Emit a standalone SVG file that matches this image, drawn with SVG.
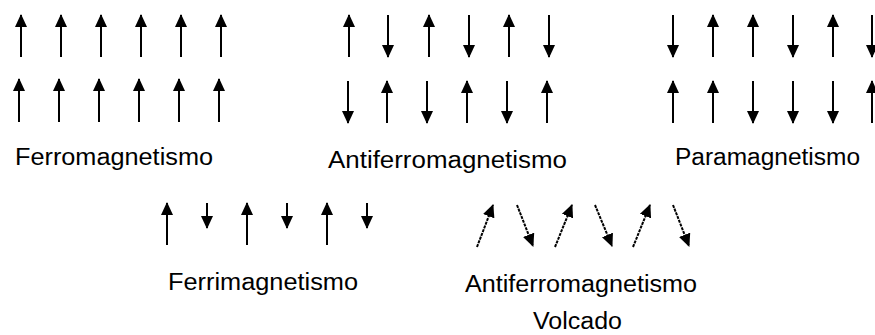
<svg xmlns="http://www.w3.org/2000/svg" width="875" height="335" viewBox="0 0 875 335">
<style>
.a{stroke:#000;stroke-width:2;fill:none;marker-end:url(#ah)}
.c{stroke:#000;stroke-width:2;fill:none;marker-end:url(#ah);stroke-dasharray:3 1}
text{font-family:"Liberation Sans",Arial,sans-serif;font-size:23px;fill:#000}
</style>
<defs>
<marker id="ah" viewBox="0 0 13 12" refX="12" refY="6" markerWidth="13" markerHeight="12" orient="auto" markerUnits="userSpaceOnUse">
<path d="M0,0 L13,6 L0,12 z" fill="#000"/>
</marker>
</defs>
<rect width="875" height="335" fill="#fff"/>
<g id="ferro">
<line class="a" x1="21" y1="57" x2="21" y2="15"/>
<line class="a" x1="61" y1="57" x2="61" y2="15"/>
<line class="a" x1="101" y1="57" x2="101" y2="15"/>
<line class="a" x1="141" y1="57" x2="141" y2="15"/>
<line class="a" x1="181" y1="57" x2="181" y2="15"/>
<line class="a" x1="221" y1="57" x2="221" y2="15"/>
<line class="a" x1="19" y1="122" x2="19" y2="79"/>
<line class="a" x1="59" y1="122" x2="59" y2="79"/>
<line class="a" x1="99" y1="122" x2="99" y2="79"/>
<line class="a" x1="139" y1="122" x2="139" y2="79"/>
<line class="a" x1="179" y1="122" x2="179" y2="79"/>
<line class="a" x1="219" y1="122" x2="219" y2="79"/>
<text x="15" y="165" textLength="198" lengthAdjust="spacingAndGlyphs">Ferromagnetismo</text>
</g>
<g id="antiferro">
<line class="a" x1="349" y1="57" x2="349" y2="15"/>
<line class="a" x1="388" y1="15" x2="388" y2="57"/>
<line class="a" x1="429" y1="57" x2="429" y2="15"/>
<line class="a" x1="469" y1="15" x2="469" y2="57"/>
<line class="a" x1="509" y1="57" x2="509" y2="15"/>
<line class="a" x1="549" y1="15" x2="549" y2="57"/>
<line class="a" x1="348" y1="81" x2="348" y2="123"/>
<line class="a" x1="387" y1="123" x2="387" y2="81"/>
<line class="a" x1="427" y1="81" x2="427" y2="123"/>
<line class="a" x1="467" y1="123" x2="467" y2="81"/>
<line class="a" x1="507" y1="81" x2="507" y2="123"/>
<line class="a" x1="547" y1="123" x2="547" y2="81"/>
<text x="328" y="168" textLength="239" lengthAdjust="spacingAndGlyphs">Antiferromagnetismo</text>
</g>
<g id="para">
<line class="a" x1="673" y1="15" x2="673" y2="57"/>
<line class="a" x1="713" y1="57" x2="713" y2="15"/>
<line class="a" x1="753" y1="57" x2="753" y2="15"/>
<line class="a" x1="793" y1="15" x2="793" y2="57"/>
<line class="a" x1="833" y1="57" x2="833" y2="15"/>
<line class="a" x1="872" y1="15" x2="872" y2="57"/>
<line class="a" x1="673" y1="123" x2="673" y2="81"/>
<line class="a" x1="713" y1="123" x2="713" y2="81"/>
<line class="a" x1="753" y1="81" x2="753" y2="123"/>
<line class="a" x1="793" y1="81" x2="793" y2="123"/>
<line class="a" x1="833" y1="81" x2="833" y2="123"/>
<line class="a" x1="872" y1="123" x2="872" y2="81"/>
<text x="675" y="165" textLength="185" lengthAdjust="spacingAndGlyphs">Paramagnetismo</text>
</g>
<g id="ferri">
<line class="a" x1="167" y1="245" x2="167" y2="203"/>
<line class="a" x1="207" y1="203" x2="207" y2="228"/>
<line class="a" x1="247" y1="245" x2="247" y2="203"/>
<line class="a" x1="287" y1="203" x2="287" y2="228"/>
<line class="a" x1="327" y1="245" x2="327" y2="203"/>
<line class="a" x1="367" y1="203" x2="367" y2="228"/>
<text x="168" y="290" textLength="190" lengthAdjust="spacingAndGlyphs">Ferrimagnetismo</text>
</g>
<g id="canted">
<line class="c" x1="477" y1="247" x2="493" y2="205"/>
<line class="c" x1="517" y1="205" x2="533" y2="246"/>
<line class="c" x1="555" y1="247" x2="572" y2="205"/>
<line class="c" x1="595" y1="205" x2="612" y2="246"/>
<line class="c" x1="633" y1="247" x2="650" y2="205"/>
<line class="c" x1="673" y1="205" x2="689" y2="246"/>
<text x="465" y="292" textLength="232" lengthAdjust="spacingAndGlyphs">Antiferromagnetismo</text>
<text x="533" y="329" textLength="89" lengthAdjust="spacingAndGlyphs">Volcado</text>
</g>
</svg>
